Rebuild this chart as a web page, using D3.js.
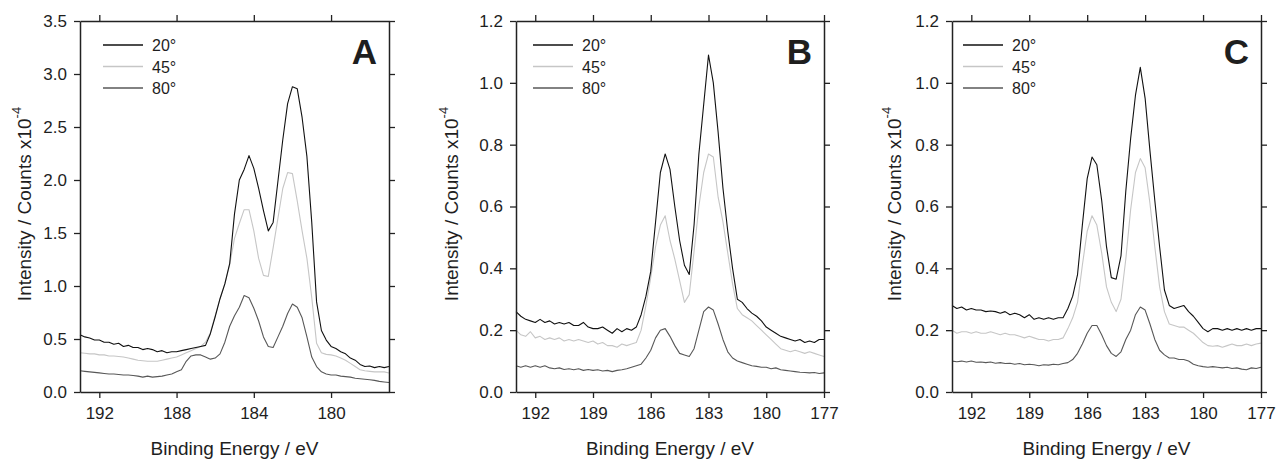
<!DOCTYPE html>
<html>
<head>
<meta charset="utf-8">
<script src="https://cdn.jsdelivr.net/npm/d3@7"></script>
<style>
  body { margin: 0; background: #fff; }
  text { font-family: "Liberation Sans", Arial, sans-serif; fill: #1e1e1e; }
</style>
</head>
<body>
<svg id="chart" width="1278" height="462"></svg>
<script>
// binding energy grid (eV), shared by all spectra
const energy = [193, 192.75, 192.5, 192.25, 192, 191.75, 191.5, 191.25, 191, 190.75,
  190.5, 190.25, 190, 189.75, 189.5, 189.25, 189, 188.75, 188.5, 188.25,
  188, 187.75, 187.5, 187.25, 187, 186.75, 186.5, 186.25, 186, 185.75,
  185.5, 185.25, 185, 184.75, 184.5, 184.25, 184, 183.75, 183.5, 183.25,
  183, 182.75, 182.5, 182.25, 182, 181.75, 181.5, 181.25, 181, 180.75,
  180.5, 180.25, 180, 179.75, 179.5, 179.25, 179, 178.75, 178.5, 178.25,
  178, 177.75, 177.5, 177.25, 177];

const angles = ["20°", "45°", "80°"];

const aXTicks = [192, 188, 184, 180];
const aYTicks = [0, 0.5, 1, 1.5, 2, 2.5, 3, 3.5];
const bcXTicks = [192, 189, 186, 183, 180, 177];
const bcYTicks = [0, 0.2, 0.4, 0.6, 0.8, 1.0, 1.2];

// panel A
const a20 = [0.54, 0.52, 0.51, 0.49, 0.49, 0.47, 0.47, 0.45, 0.46, 0.43,
  0.44, 0.42, 0.42, 0.40, 0.41, 0.40, 0.38, 0.39, 0.37, 0.38,
  0.38, 0.39, 0.40, 0.41, 0.42, 0.43, 0.44, 0.55, 0.71, 0.88,
  1.02, 1.21, 1.68, 2.00, 2.10, 2.23, 2.11, 1.92, 1.71, 1.52,
  1.60, 1.99, 2.38, 2.72, 2.88, 2.86, 2.59, 2.22, 1.60, 0.85,
  0.58, 0.49, 0.43, 0.41, 0.38, 0.36, 0.32, 0.30, 0.26, 0.24,
  0.245, 0.23, 0.24, 0.23, 0.24];
const a45 = [0.37, 0.365, 0.36, 0.36, 0.35, 0.35, 0.34, 0.34, 0.335, 0.33,
  0.32, 0.31, 0.30, 0.295, 0.29, 0.29, 0.29, 0.30, 0.31, 0.32,
  0.33, 0.35, 0.37, 0.39, 0.41, 0.43, 0.47, 0.56, 0.72, 0.88,
  1.02, 1.20, 1.45, 1.59, 1.72, 1.72, 1.52, 1.26, 1.10, 1.09,
  1.36, 1.64, 1.92, 2.07, 2.06, 1.80, 1.52, 1.26, 0.89, 0.46,
  0.37, 0.355, 0.35, 0.34, 0.32, 0.30, 0.27, 0.24, 0.21, 0.20,
  0.195, 0.19, 0.19, 0.19, 0.18];
const a80 = [0.20, 0.195, 0.19, 0.185, 0.18, 0.175, 0.17, 0.17, 0.165, 0.16,
  0.16, 0.155, 0.15, 0.14, 0.15, 0.14, 0.145, 0.15, 0.16, 0.17,
  0.19, 0.21, 0.29, 0.34, 0.35, 0.35, 0.33, 0.31, 0.32, 0.36,
  0.47, 0.62, 0.72, 0.80, 0.91, 0.89, 0.79, 0.67, 0.52, 0.43,
  0.42, 0.52, 0.62, 0.74, 0.83, 0.80, 0.70, 0.52, 0.33, 0.24,
  0.19, 0.17, 0.16, 0.16, 0.15, 0.145, 0.14, 0.13, 0.125, 0.12,
  0.115, 0.11, 0.10, 0.095, 0.09];

// panel B
const b20 = [0.26, 0.245, 0.235, 0.23, 0.225, 0.235, 0.225, 0.23, 0.22, 0.225,
  0.22, 0.225, 0.215, 0.215, 0.225, 0.21, 0.205, 0.205, 0.21, 0.20,
  0.19, 0.205, 0.195, 0.205, 0.20, 0.21, 0.25, 0.31, 0.39, 0.55,
  0.71, 0.77, 0.72, 0.60, 0.49, 0.41, 0.38, 0.54, 0.77, 0.93,
  1.09, 1.00, 0.84, 0.66, 0.52, 0.40, 0.30, 0.29, 0.27, 0.255,
  0.245, 0.23, 0.21, 0.20, 0.19, 0.18, 0.175, 0.17, 0.165, 0.17,
  0.16, 0.165, 0.16, 0.17, 0.17];
const b45 = [0.20, 0.185, 0.18, 0.195, 0.175, 0.18, 0.17, 0.175, 0.17, 0.175,
  0.165, 0.17, 0.165, 0.17, 0.165, 0.16, 0.165, 0.155, 0.16, 0.15,
  0.15, 0.145, 0.155, 0.15, 0.155, 0.16, 0.20, 0.28, 0.37, 0.47,
  0.54, 0.57, 0.49, 0.43, 0.36, 0.29, 0.315, 0.455, 0.60, 0.71,
  0.77, 0.76, 0.63, 0.55, 0.45, 0.35, 0.27, 0.25, 0.24, 0.23,
  0.215, 0.20, 0.185, 0.17, 0.155, 0.14, 0.135, 0.13, 0.135, 0.13,
  0.125, 0.13, 0.125, 0.12, 0.115];
const b80 = [0.085, 0.08, 0.085, 0.08, 0.085, 0.08, 0.085, 0.078, 0.075, 0.078,
  0.073, 0.075, 0.072, 0.075, 0.07, 0.073, 0.07, 0.072, 0.068, 0.07,
  0.066, 0.07, 0.072, 0.075, 0.08, 0.085, 0.09, 0.11, 0.135, 0.175,
  0.20, 0.205, 0.18, 0.15, 0.125, 0.12, 0.115, 0.14, 0.20, 0.26,
  0.275, 0.265, 0.22, 0.17, 0.13, 0.11, 0.10, 0.095, 0.09, 0.085,
  0.083, 0.08, 0.08, 0.075, 0.078, 0.072, 0.07, 0.068, 0.066, 0.064,
  0.063, 0.062, 0.063, 0.06, 0.062];

// panel C
const c20 = [0.28, 0.27, 0.275, 0.265, 0.27, 0.265, 0.265, 0.26, 0.262, 0.26,
  0.255, 0.26, 0.25, 0.255, 0.25, 0.24, 0.25, 0.235, 0.24, 0.235,
  0.24, 0.235, 0.24, 0.24, 0.27, 0.31, 0.38, 0.54, 0.69, 0.76,
  0.735, 0.62, 0.47, 0.37, 0.365, 0.44, 0.65, 0.82, 0.96, 1.05,
  0.95, 0.78, 0.62, 0.47, 0.33, 0.28, 0.27, 0.275, 0.28, 0.26,
  0.245, 0.225, 0.205, 0.195, 0.205, 0.205, 0.20, 0.205, 0.20, 0.205,
  0.20, 0.205, 0.20, 0.205, 0.205];
const c45 = [0.20, 0.19, 0.195, 0.195, 0.19, 0.195, 0.19, 0.19, 0.195, 0.19,
  0.185, 0.19, 0.185, 0.185, 0.18, 0.175, 0.18, 0.175, 0.17, 0.17,
  0.165, 0.17, 0.17, 0.175, 0.205, 0.24, 0.29, 0.41, 0.52, 0.57,
  0.54, 0.45, 0.34, 0.29, 0.26, 0.30, 0.43, 0.59, 0.71, 0.755,
  0.725, 0.61, 0.47, 0.34, 0.26, 0.22, 0.215, 0.21, 0.21, 0.20,
  0.19, 0.175, 0.16, 0.15, 0.148, 0.15, 0.145, 0.15, 0.155, 0.15,
  0.15, 0.155, 0.15, 0.155, 0.158];
const c80 = [0.10, 0.098, 0.10, 0.097, 0.10, 0.096, 0.097, 0.095, 0.097, 0.093,
  0.095, 0.092, 0.093, 0.09, 0.092, 0.088, 0.09, 0.088, 0.085, 0.088,
  0.087, 0.09, 0.088, 0.092, 0.095, 0.105, 0.125, 0.155, 0.19, 0.215,
  0.215, 0.185, 0.15, 0.125, 0.115, 0.13, 0.17, 0.20, 0.25, 0.275,
  0.265, 0.22, 0.17, 0.135, 0.12, 0.11, 0.11, 0.105, 0.105, 0.10,
  0.09, 0.085, 0.082, 0.08, 0.082, 0.08, 0.078, 0.08, 0.076, 0.078,
  0.074, 0.072, 0.078, 0.076, 0.08];

const colors = ["#111111", "#c6c6c6", "#585858"];

const panels = [
  { label: "A", left: 80, right: 389, yMax: 3.5, xt: aXTicks, yt: aYTicks,
    series: [a20, a45, a80], legendX: 23, titleOff: 49 },
  { label: "B", left: 516, right: 824, yMax: 1.2, xt: bcXTicks, yt: bcYTicks,
    series: [b20, b45, b80], legendX: 17, titleOff: 58 },
  { label: "C", left: 952, right: 1261, yMax: 1.2, xt: bcXTicks, yt: bcYTicks,
    series: [c20, c45, c80], legendX: 11, titleOff: 51 }
];

const plotTop = 21, plotBottom = 392;
const svg = d3.select("#chart");
svg.append("rect").attr("width", 1278).attr("height", 462).attr("fill", "#fff");

panels.forEach(p => {
  const x = d3.scaleLinear().domain([193, 177]).range([p.left, p.right]);
  const y = d3.scaleLinear().domain([0, p.yMax]).range([plotBottom, plotTop]);
  const g = svg.append("g");
  const fmtY = d3.format(".1f");

  // spectra
  const line = d3.line()
    .x((d, i) => x(energy[i]))
    .y(d => y(d));
  [2, 1, 0].forEach(k => {
    g.append("path")
      .datum(p.series[k])
      .attr("d", line)
      .attr("fill", "none")
      .attr("stroke", colors[k])
      .attr("stroke-width", 1.1)
      .attr("stroke-linejoin", "round");
  });

  // axes, ticks outward on all four sides
  g.append("g").attr("transform", `translate(0,${plotBottom})`)
    .call(d3.axisBottom(x).tickValues(p.xt).tickSize(6).tickSizeOuter(0).tickPadding(9).tickFormat(d3.format("d")));
  g.append("g").attr("transform", `translate(0,${plotTop})`)
    .call(d3.axisTop(x).tickValues(p.xt).tickSize(6).tickSizeOuter(0).tickFormat(""));
  g.append("g").attr("transform", `translate(${p.left},0)`)
    .call(d3.axisLeft(y).tickValues(p.yt).tickSize(6).tickSizeOuter(0).tickPadding(7).tickFormat(fmtY));
  g.append("g").attr("transform", `translate(${p.right},0)`)
    .call(d3.axisRight(y).tickValues(p.yt).tickSize(6).tickSizeOuter(0).tickFormat(""));

  g.selectAll(".domain").attr("stroke", "#222").attr("stroke-width", 1.5);
  g.selectAll(".tick line").attr("stroke", "#222").attr("stroke-width", 1.3);
  g.selectAll(".tick text").attr("font-size", 17).attr("fill", "#1e1e1e")
    .attr("font-family", '"Liberation Sans", Arial, sans-serif');

  // axis titles
  g.append("text")
    .attr("x", (p.left + p.right) / 2).attr("y", 455)
    .attr("text-anchor", "middle").attr("font-size", 19)
    .text("Binding Energy / eV");

  const yt = g.append("text")
    .attr("transform", `translate(${p.left - p.titleOff},204) rotate(-90)`)
    .attr("text-anchor", "middle").attr("font-size", 19);
  yt.append("tspan").text("Intensity / Counts x10");
  yt.append("tspan").attr("font-size", 13).attr("dy", -10).text("-4");

  // panel letter
  g.append("text")
    .attr("x", p.right - 12).attr("y", 64)
    .attr("text-anchor", "end").attr("font-size", 35).attr("font-weight", "bold")
    .attr("fill", "#000")
    .text(p.label);

  // legend
  angles.forEach((a, k) => {
    const ly = 45 + k * 21.5;
    g.append("line")
      .attr("x1", p.left + p.legendX).attr("x2", p.left + p.legendX + 40)
      .attr("y1", ly).attr("y2", ly)
      .attr("stroke", colors[k]).attr("stroke-width", 1.3);
    g.append("text")
      .attr("x", p.left + p.legendX + 49).attr("y", ly + 6)
      .attr("font-size", 16)
      .text(a);
  });
});
</script>
</body>
</html>
